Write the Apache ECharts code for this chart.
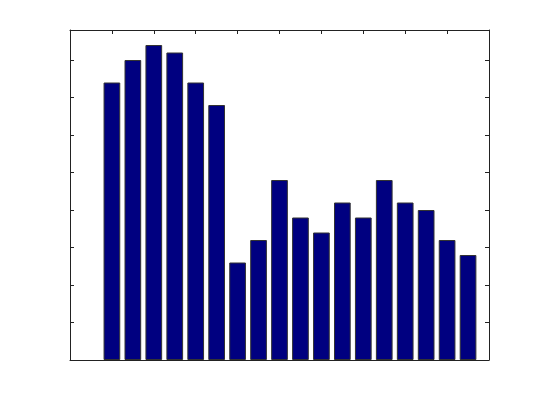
<!DOCTYPE html>
<html>
<head>
<meta charset="utf-8">
<script src="https://cdn.jsdelivr.net/npm/echarts@6/dist/echarts.min.js"></script>
<style>
  html, body { margin: 0; padding: 0; background: #fff; }
  #chart { width: 540px; height: 405px; }
</style>
</head>
<body>
<div id="chart"></div>
<script>
// bar positions on the x axis and their heights
const positions = [2, 3, 4, 5, 6, 7, 8, 9, 10, 11, 12, 13, 14, 15, 16, 17, 18, 19];
const heights = [37, 40, 42, 41, 37, 34, 13, 16, 24, 19, 17, 21, 19, 24, 21, 20, 16, 14];

const xMin = 0, xMax = 20, xStep = 2;
const yMin = 0, yMax = 44, yStep = 5;

const lineStyle = { color: '#222', width: 1 };
const tick = { show: true, inside: true, length: 4, lineStyle: { color: '#222' } };

const makeX = (pos) => ({
  type: 'value', position: pos, min: xMin, max: xMax, interval: xStep,
  axisLine: { show: true, onZero: false, lineStyle: lineStyle },
  axisTick: tick, axisLabel: { show: false }, splitLine: { show: false }
});
const makeY = (pos) => ({
  type: 'value', position: pos, min: yMin, max: yMax, interval: yStep,
  axisLine: { show: true, onZero: false, lineStyle: lineStyle },
  axisTick: tick, axisLabel: { show: false }, splitLine: { show: false }
});

const chart = echarts.init(document.getElementById('chart'));
chart.setOption({
  animation: false,
  backgroundColor: '#fff',
  grid: { left: 70, top: 30, right: 51, bottom: 45 },
  xAxis: [makeX('bottom'), makeX('top')],
  yAxis: [makeY('left'), makeY('right')],
  series: [{
    type: 'bar',
    xAxisIndex: 0,
    yAxisIndex: 0,
    barWidth: 16.7,
    data: positions.map((p, i) => [p, heights[i]]),
    itemStyle: { color: '#000080', borderColor: '#333', borderWidth: 1 }
  }]
});
</script>
</body>
</html>
